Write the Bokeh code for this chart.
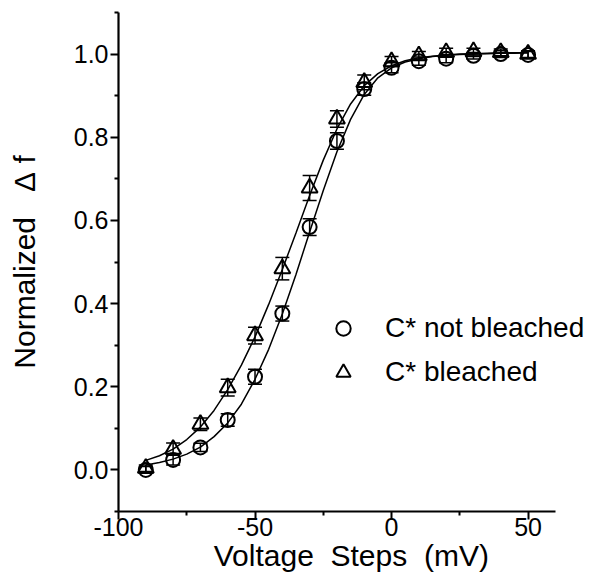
from bokeh.plotting import figure
from bokeh.models import (ColumnDataSource, Whisker, TeeHead, Legend, LegendItem,
                          FixedTicker, Range1d, PrintfTickFormatter)
from bokeh.embed import file_html
from bokeh.resources import INLINE

# ---- data ----
voltage = [-90, -80, -70, -60, -50, -40, -30, -20, -10, 0, 10, 20, 30, 40, 50]
not_bleached = [0.0, 0.024, 0.054, 0.12, 0.224, 0.376, 0.584, 0.791, 0.916,
                0.967, 0.983, 0.989, 0.996, 1.0, 0.998]
not_bleached_err = [0.008, 0.012, 0.01, 0.015, 0.018, 0.018, 0.02, 0.02, 0.015,
                    0.012, 0.01, 0.01, 0.008, 0.008, 0.008]
bleached = [0.004, 0.05, 0.11, 0.198, 0.323, 0.484, 0.678, 0.844, 0.932,
            0.982, 0.996, 1.004, 1.006, 1.004, 1.0]
bleached_err = [0.008, 0.015, 0.015, 0.02, 0.02, 0.027, 0.03, 0.02, 0.018,
                0.012, 0.01, 0.01, 0.008, 0.008, 0.008]

fit_voltage = [-90, -85, -80, -75, -70, -65, -60, -55, -50, -45, -40, -35, -30,
               -25, -20, -15, -10, -5, 0, 5, 10, 15, 20, 25, 30, 35, 40, 45, 50]
fit_not_bleached = [0.012, 0.018, 0.026, 0.038, 0.055, 0.08, 0.113, 0.158, 0.218,
                    0.29, 0.375, 0.47, 0.572, 0.672, 0.765, 0.843, 0.903, 0.943,
                    0.967, 0.981, 0.989, 0.994, 0.997, 0.999, 1.0, 1.001, 1.002,
                    1.002, 1.003]
fit_bleached = [0.023, 0.034, 0.05, 0.073, 0.103, 0.143, 0.193, 0.252, 0.32,
                0.398, 0.482, 0.57, 0.66, 0.745, 0.82, 0.88, 0.924, 0.953,
                0.972, 0.984, 0.991, 0.995, 0.998, 1.0, 1.001, 1.002, 1.003,
                1.003, 1.003]

x_axis_limits = (-100, 60)
y_axis_limits = (-0.1, 1.1)
x_major_ticks = [-100, -50, 0, 50]
x_minor_ticks = [-75, -25, 25]
y_major_ticks = [0.0, 0.2, 0.4, 0.6, 0.8, 1.0]
y_minor_ticks = [-0.1, 0.1, 0.3, 0.5, 0.7, 0.9, 1.1]

FONT = "Liberation Sans"
NB = "\u00a0"

# the frame runs on past the end of the x axis (axis bounds keep the line short)
p = figure(width=594, height=575, x_range=Range1d(-100, 73.6), y_range=Range1d(-0.1, 1.1),
           output_backend="svg", toolbar_location=None,
           min_border_left=118, min_border_right=2, min_border_top=12, min_border_bottom=64)
p.outline_line_color = None
p.xgrid.visible = False
p.ygrid.visible = False
p.background_fill_color = "white"
p.border_fill_color = "white"

# fitted curves
p.line(fit_voltage, fit_not_bleached, line_color="black", line_width=1.5)
p.line(fit_voltage, fit_bleached, line_color="black", line_width=1.5)

# error bars
src_nb = ColumnDataSource(dict(
    x=voltage, y=not_bleached,
    lo=[v - e for v, e in zip(not_bleached, not_bleached_err)],
    hi=[v + e for v, e in zip(not_bleached, not_bleached_err)]))
src_b = ColumnDataSource(dict(
    x=voltage, y=bleached,
    lo=[v - e for v, e in zip(bleached, bleached_err)],
    hi=[v + e for v, e in zip(bleached, bleached_err)]))
for src in (src_nb, src_b):
    w = Whisker(source=src, base="x", lower="lo", upper="hi", line_color="black",
                line_width=1.5,
                upper_head=TeeHead(size=14, line_color="black", line_width=1.5),
                lower_head=TeeHead(size=14, line_color="black", line_width=1.5))
    p.add_layout(w)

r_nb = p.scatter("x", "y", source=src_nb, marker="circle", size=14,
                 fill_color=None, line_color="black", line_width=2)
r_b = p.scatter("x", "y", source=src_b, marker="triangle", size=16,
                fill_color=None, line_color="black", line_width=2)

# axes
for ax in (p.xaxis[0], p.yaxis[0]):
    ax.axis_line_width = 2.2
    ax.axis_line_color = "black"
    ax.major_tick_line_width = 2
    ax.minor_tick_line_width = 2
    ax.major_tick_out = 8
    ax.major_tick_in = 0
    ax.minor_tick_out = 4
    ax.minor_tick_in = 0
    ax.major_label_text_font = FONT
    ax.major_label_text_font_size = "25px"
    ax.major_label_text_color = "black"
    ax.axis_label_text_font = FONT
    ax.axis_label_text_font_size = "30px"
    ax.axis_label_text_font_style = "normal"
    ax.axis_label_text_color = "black"

xa = p.xaxis[0]
ya = p.yaxis[0]
xa.bounds = x_axis_limits
ya.bounds = y_axis_limits
xa.ticker = FixedTicker(ticks=x_major_ticks, minor_ticks=x_minor_ticks)
xa.formatter = PrintfTickFormatter(format="%d")
ya.ticker = FixedTicker(ticks=y_major_ticks, minor_ticks=y_minor_ticks)
ya.formatter = PrintfTickFormatter(format="%.1f")
xa.axis_label = "Voltage" + NB * 2 + "Steps" + NB * 2 + "(mV)" + NB
ya.axis_label = "Normalized" + NB * 3 + "\u0394" + NB + "f"
xa.major_label_standoff = -2
ya.major_label_standoff = 2
xa.axis_label_standoff = 0
ya.axis_label_standoff = 30

legend = Legend(items=[LegendItem(label="C* not bleached", renderers=[r_nb]),
                       LegendItem(label="C* bleached", renderers=[r_b])],
                location=(207, 121), glyph_width=36, glyph_height=36,
                label_standoff=24, spacing=8, padding=0, margin=0,
                border_line_color=None, background_fill_alpha=0,
                label_text_font=FONT, label_text_font_size="28px",
                label_text_color="black")
p.add_layout(legend)

open("out.html", "w").write(file_html(p, INLINE))
